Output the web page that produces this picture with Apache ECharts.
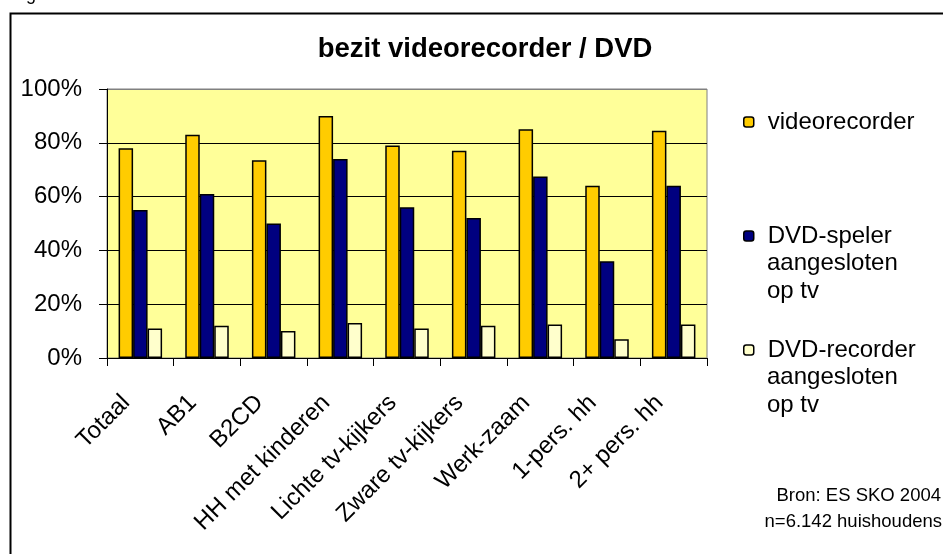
<!DOCTYPE html>
<html>
<head>
<meta charset="utf-8">
<script src="https://cdn.jsdelivr.net/npm/echarts@6/dist/echarts.min.js"></script>
<style>
html,body{margin:0;padding:0;background:#fff;}
#chart{width:943px;height:554px;}
</style>
</head>
<body>
<div id="chart"></div>
<script>
const categories = ['Totaal','AB1','B2CD','HH met kinderen','Lichte tv-kijkers','Zware tv-kijkers','Werk-zaam','1-pers. hh','2+ pers. hh'];
const videorecorder = [78, 83, 73.5, 90, 79, 77, 85, 64, 84.5];
const dvdSpeler = [55, 61, 50, 74, 56, 52, 67.5, 36, 64];
const dvdRecorder = [11, 12, 10, 13, 11, 12, 12.5, 7, 12.5];
const yTicks = [0, 20, 40, 60, 80, 100];
const seriesNames = ['videorecorder', 'DVD-speler aangesloten op tv', 'DVD-recorder aangesloten op tv'];

const FONT = "'Liberation Sans', Arial, sans-serif";
const chart = echarts.init(document.getElementById('chart'), null, {renderer: 'canvas'});

const barBorder = {borderColor: '#000', borderWidth: 1.5};
const legendText = {fontFamily: FONT, fontSize: 24, color: '#000', padding: [0,0,0,9]};
const legendIcon = {borderColor: '#000', borderWidth: 1.5};

const option = {
  backgroundColor: '#fff',
  animation: false,
  textStyle: {fontFamily: FONT, color: '#000'},
  title: {
    text: 'bezit videorecorder / DVD',
    left: 480, top: 30, textAlign: 'center',
    textStyle: {fontFamily: FONT, fontWeight: 'bold', fontSize: 27.5, color: '#000'}
  },
  grid: {
    left: 107, right: 236, top: 89, bottom: 196,
    show: true, backgroundColor: '#FFFF99', borderColor: '#808080', borderWidth: 1
  },
  legend: [
    {data: [seriesNames[0]], left: 743, top: 110, padding: 0, orient: 'vertical', itemWidth: 10, itemHeight: 10,
     textStyle: legendText, itemStyle: legendIcon},
    {data: [seriesNames[1]], left: 743, top: 224, padding: 0, orient: 'vertical', itemWidth: 10, itemHeight: 10,
     formatter: () => 'DVD-speler', textStyle: legendText, itemStyle: legendIcon},
    {data: [seriesNames[2]], left: 743, top: 338, padding: 0, orient: 'vertical', itemWidth: 10, itemHeight: 10,
     formatter: () => 'DVD-recorder', textStyle: legendText, itemStyle: legendIcon}
  ],
  graphic: [
    {type: 'rect', left: 8, top: 11, shape: {x: 0, y: 0, width: 960, height: 560},
     style: {fill: 'none', stroke: '#000', lineWidth: 2}, silent: true},
    {type: 'text', left: 26, top: -14, style: {text: 'g', fontFamily: FONT, fontSize: 18, fill: '#000'}},
    {type: 'text', left: 767, top: 249, style: {text: 'aangesloten\nop tv', fontFamily: FONT, fontSize: 24, lineHeight: 28, fill: '#000'}},
    {type: 'text', left: 767, top: 363, style: {text: 'aangesloten\nop tv', fontFamily: FONT, fontSize: 24, lineHeight: 28, fill: '#000'}},
    {type: 'text', right: 2, top: 486, style: {text: 'Bron: ES SKO 2004', fontFamily: FONT, fontSize: 18.5, fill: '#000', align: 'right'}},
    {type: 'text', right: 1, top: 512, style: {text: 'n=6.142 huishoudens', fontFamily: FONT, fontSize: 18.5, fill: '#000', align: 'right'}}
  ],
  xAxis: {
    type: 'category',
    data: categories,
    boundaryGap: true,
    axisLine: {show: true, lineStyle: {color: '#000', width: 1}},
    axisTick: {show: true, inside: false, length: 8, alignWithLabel: false, lineStyle: {color: '#000'}},
    axisLabel: {rotate: 45, interval: 0, margin: 27, padding: [0, 20, 0, 0], fontFamily: FONT, fontSize: 24, color: '#000'},
    splitLine: {show: false}
  },
  yAxis: {
    type: 'value',
    min: 0, max: 100, interval: 20,
    axisLine: {show: true, lineStyle: {color: '#000', width: 1}},
    axisTick: {show: true, length: 8, lineStyle: {color: '#000'}},
    axisLabel: {margin: 25, fontFamily: FONT, fontSize: 24, color: '#000', formatter: v => yTicks.includes(v) ? v + '%' : ''},
    splitLine: {show: true, lineStyle: {color: ['#000','#000','#000','#000','#000','#808080'], width: 1}}
  },
  series: [
    {name: seriesNames[0], type: 'bar', data: videorecorder, barWidth: 14.5, barGap: '0%',
     itemStyle: Object.assign({color: '#FFCC00'}, barBorder)},
    {name: seriesNames[1], type: 'bar', data: dvdSpeler, barWidth: 14.5, barGap: '0%',
     itemStyle: Object.assign({color: '#000080'}, barBorder)},
    {name: seriesNames[2], type: 'bar', data: dvdRecorder, barWidth: 14.5, barGap: '0%',
     itemStyle: Object.assign({color: '#FFFFCC'}, barBorder)}
  ]
};
chart.setOption(option);
</script>
</body>
</html>
